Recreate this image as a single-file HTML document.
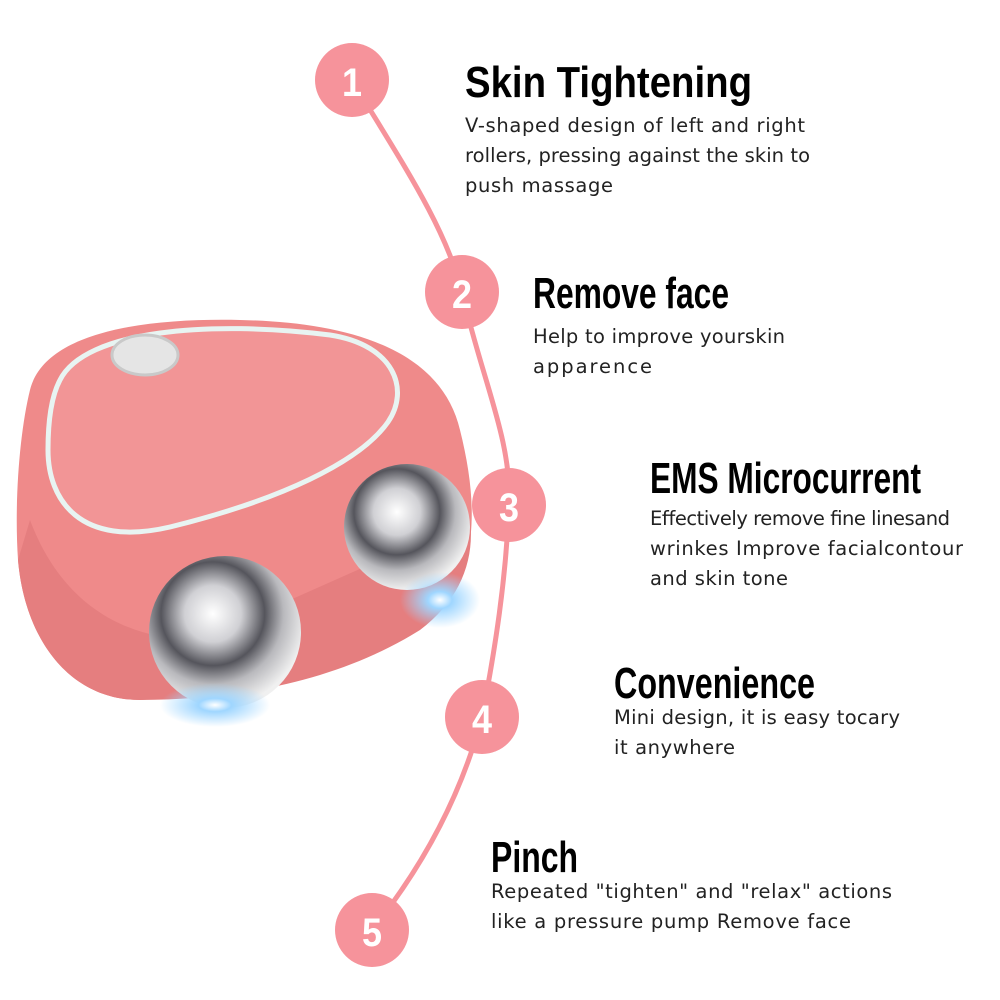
<!DOCTYPE html>
<html><head><style>
html,body{margin:0;padding:0;background:#fff;}
.wrap{position:relative;width:1000px;height:1000px;overflow:hidden;}
</style></head><body><div class="wrap">
<svg width="1000" height="1000" style="position:absolute;left:0;top:0">
<defs>
<radialGradient id="ball" cx="0.42" cy="0.38" r="0.62">
<stop offset="0" stop-color="#ffffff"/><stop offset="0.3" stop-color="#d0d0d4"/><stop offset="0.55" stop-color="#55555c"/><stop offset="0.75" stop-color="#b9b9bd"/><stop offset="1" stop-color="#f0f0f0"/>
</radialGradient>
<radialGradient id="glow" cx="0.5" cy="0.5" r="0.5"><stop offset="0" stop-color="#ffffff"/><stop offset="0.3" stop-color="#9fd6ff"/><stop offset="1" stop-color="#9fd6ff" stop-opacity="0"/></radialGradient>
</defs>
<path d="M352,80 C400,160 445,225 462,292 C482,380 512,440 509,505 C506,580 495,650 482,717 C460,800 420,870 372,930" fill="none" stroke="#f6939b" stroke-width="5"/>
<path d="M30,390 C45,330 150,318 240,320 C340,322 440,345 460,430 C475,490 478,545 455,590 C420,640 300,690 140,700 C70,700 25,640 18,560 C14,500 20,430 30,390 Z" fill="#ef8a8a"/>
<path d="M30,520 C60,600 120,640 200,640 L470,520 C475,560 460,600 420,630 C340,680 240,700 140,700 C70,700 25,640 18,560 Z" fill="#e57e7f"/>
<path d="M60,380 C85,330 210,320 330,335 C395,345 410,390 388,422 C360,462 280,500 170,527 C80,548 48,500 48,450 C48,420 52,395 60,380 Z" fill="#f29596" stroke="#e8f4f2" stroke-width="5"/>
<ellipse cx="145" cy="355" rx="33" ry="20" fill="#e5e5e5" stroke="#c9c9c9" stroke-width="3"/>
<circle cx="225" cy="632" r="76" fill="url(#ball)"/>
<circle cx="407" cy="527" r="63" fill="url(#ball)"/>
<ellipse cx="215" cy="705" rx="55" ry="22" fill="url(#glow)"/>
<ellipse cx="440" cy="600" rx="40" ry="28" fill="url(#glow)"/>
<g font-family="Liberation Sans,sans-serif" font-weight="bold" font-size="40" fill="#fff" text-anchor="middle">
<circle cx="352" cy="80" r="37" fill="#f6939b"/><text x="352" y="96" textLength="20" lengthAdjust="spacingAndGlyphs">1</text>
<circle cx="462" cy="292" r="37" fill="#f6939b"/><text x="462" y="308" textLength="20" lengthAdjust="spacingAndGlyphs">2</text>
<circle cx="509" cy="505" r="37" fill="#f6939b"/><text x="509" y="521" textLength="20" lengthAdjust="spacingAndGlyphs">3</text>
<circle cx="482" cy="717" r="37" fill="#f6939b"/><text x="482" y="733" textLength="20" lengthAdjust="spacingAndGlyphs">4</text>
<circle cx="372" cy="930" r="37" fill="#f6939b"/><text x="372" y="946" textLength="20" lengthAdjust="spacingAndGlyphs">5</text>
</g>
<g font-family="Liberation Sans,sans-serif" font-weight="bold" font-size="44" fill="#000">
<text x="465" y="97" textLength="287" lengthAdjust="spacingAndGlyphs">Skin Tightening</text>
<text x="533" y="308" textLength="196" lengthAdjust="spacingAndGlyphs">Remove face</text>
<text x="650" y="493" textLength="271" lengthAdjust="spacingAndGlyphs">EMS Microcurrent</text>
<text x="614" y="698" textLength="201" lengthAdjust="spacingAndGlyphs">Convenience</text>
<text x="491" y="872" textLength="87" lengthAdjust="spacingAndGlyphs">Pinch</text>
</g>
<g font-family="DejaVu Sans,Liberation Sans,sans-serif" font-size="19.5" fill="#222" lengthAdjust="spacingAndGlyphs">
<text x="465" y="132" textLength="340">V-shaped design of left and right</text>
<text x="465" y="162" textLength="345">rollers, pressing against the skin to</text>
<text x="465" y="192" textLength="148">push massage</text>
<text x="533" y="343" textLength="252">Help to improve yourskin</text>
<text x="533" y="373" textLength="119">apparence</text>
<text x="650" y="525" textLength="300">Effectively remove fine linesand</text>
<text x="650" y="555" textLength="313">wrinkes Improve facialcontour</text>
<text x="650" y="585" textLength="138">and skin tone</text>
<text x="614" y="724" textLength="286">Mini design, it is easy tocary</text>
<text x="614" y="754" textLength="121">it anywhere</text>
<text x="491" y="898" textLength="401">Repeated "tighten" and "relax" actions</text>
<text x="491" y="928" textLength="360">like a pressure pump Remove face</text>
</g>
</svg>
</div></body></html>
